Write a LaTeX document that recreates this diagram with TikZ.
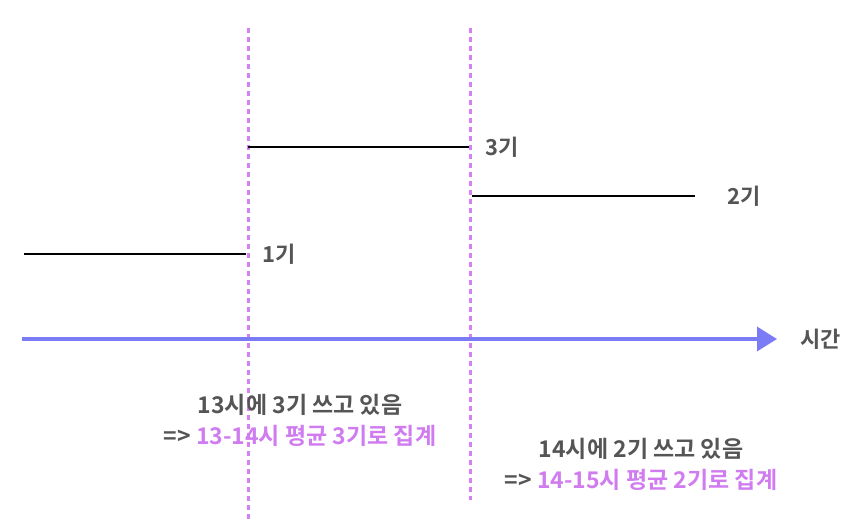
\documentclass[tikz,border=0pt]{standalone}
\usepackage{fontspec}
\newfontfamily\kr{Noto Sans CJK KR Bold}
\usetikzlibrary{arrows.meta}
\definecolor{txtgrey}{HTML}{555555}
\definecolor{hl}{HTML}{D07CF0}
\definecolor{dashc}{HTML}{D680F5}
\definecolor{axisc}{HTML}{7B7BF5}
\begin{document}
\begin{tikzpicture}[x=1pt,y=-1pt,
  guide/.style={dashc,line width=3pt,dash pattern=on 5pt off 4pt},
  span/.style={black,line width=1.8pt},
  lbl/.style={font=\kr\fontsize{22}{26}\selectfont,text=txtgrey,inner sep=0pt},
  note/.style={font=\kr\fontsize{23}{31}\selectfont,text=txtgrey,align=center,inner sep=0pt}]
\useasboundingbox (0,0) rectangle (868,521);
% guides
\coordinate (g1t) at (248,28); \coordinate (g1b) at (248,521);
\coordinate (g2t) at (470,28); \coordinate (g2b) at (470,500);
\draw[guide] (g1t) -- (g1b);
\draw[guide] (g2t) -- (g2b);
% spans
\coordinate (a1) at (24,254); \coordinate (a2) at (246,254);
\coordinate (b1) at (248,147); \coordinate (b2) at (469,147);
\coordinate (c1) at (472,196); \coordinate (c2) at (695,196);
\draw[span] (a1) -- (a2);
\draw[span] (b1) -- (b2);
\draw[span] (c1) -- (c2);
\node[lbl,anchor=west] (l1) at (262,254) {1기};
\node[lbl,anchor=west] (l3) at (485,147) {3기};
\node[lbl,anchor=west] (l2) at (727,196) {2기};
% axis
\coordinate (ax0) at (22,339); \coordinate (ax1) at (777,339);
\draw[axisc,line width=3.5pt,-{Triangle[length=20pt,width=24pt]}] (ax0) -- (ax1);
\node[lbl,anchor=west] (t) at (800,339) {시간};
% notes
\node[note] (n1) at (300,420) {13시에 3기 쓰고 있음\\=> \textcolor{hl}{13-14시 평균 3기로 집계}};
\node[note] (n2) at (641,464) {14시에 2기 쓰고 있음\\=> \textcolor{hl}{14-15시 평균 2기로 집계}};
\end{tikzpicture}
\end{document}
